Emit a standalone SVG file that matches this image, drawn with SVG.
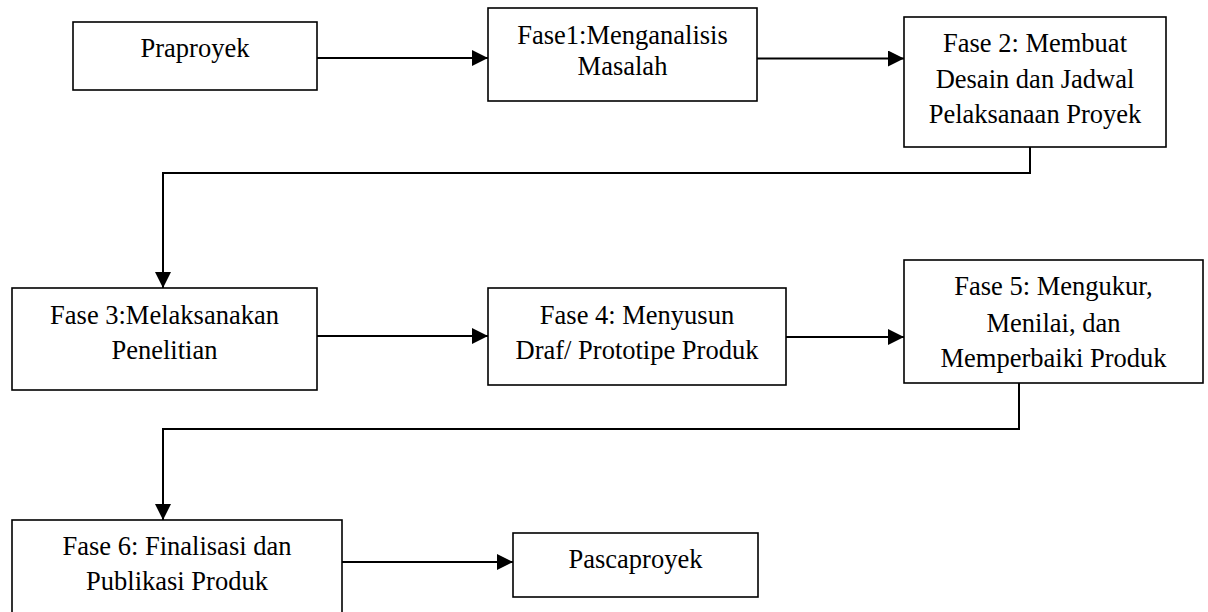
<svg xmlns="http://www.w3.org/2000/svg" width="1208" height="612" viewBox="0 0 1208 612">
<style>
.box{fill:#fff;stroke:#000;stroke-width:1.6}
.lbl{font-size:26.5px;fill:#000;text-anchor:middle}
.conn{fill:none;stroke:#000;stroke-width:2}
</style>
<defs>
<marker id="ah" markerUnits="userSpaceOnUse" markerWidth="16" markerHeight="16" viewBox="0 0 16 16" refX="16" refY="8" orient="auto">
<path d="M0,0 L16,8 L0,16 Z" fill="#000"/>
</marker>
</defs>
<rect width="1208" height="612" fill="#fff"/>
<g id="connectors">
<path class="conn" d="M317,58 H488" marker-end="url(#ah)"/>
<path class="conn" d="M757,58.5 H904" marker-end="url(#ah)"/>
<path class="conn" d="M1030,147 V173 H163 V288" marker-end="url(#ah)"/>
<path class="conn" d="M317,336 H488" marker-end="url(#ah)"/>
<path class="conn" d="M786,337 H904" marker-end="url(#ah)"/>
<path class="conn" d="M1019,383 V429 H163 V520" marker-end="url(#ah)"/>
<path class="conn" d="M342,562 H513" marker-end="url(#ah)"/>
</g>
<g font-family="'Liberation Serif', 'Times New Roman', serif">
<g id="praproyek">
<rect class="box" x="73" y="22" width="244" height="68"/>
<text class="lbl" x="195" y="57">Praproyek</text>
</g>
<g id="fase1">
<rect class="box" x="488" y="8" width="269" height="93"/>
<text class="lbl" x="622.5" y="44">Fase1:Menganalisis</text>
<text class="lbl" x="622.5" y="75">Masalah</text>
</g>
<g id="fase2">
<rect class="box" x="904" y="17" width="262" height="130"/>
<text class="lbl" x="1035" y="52">Fase 2: Membuat</text>
<text class="lbl" x="1035" y="88">Desain dan Jadwal</text>
<text class="lbl" x="1035" y="123">Pelaksanaan Proyek</text>
</g>
<g id="fase3">
<rect class="box" x="12" y="288" width="305" height="102"/>
<text class="lbl" x="164.5" y="324">Fase 3:Melaksanakan</text>
<text class="lbl" x="164.5" y="359">Penelitian</text>
</g>
<g id="fase4">
<rect class="box" x="488" y="288" width="298" height="97"/>
<text class="lbl" x="637" y="324">Fase 4: Menyusun</text>
<text class="lbl" x="637" y="359">Draf/ Prototipe Produk</text>
</g>
<g id="fase5">
<rect class="box" x="904" y="260" width="299" height="123"/>
<text class="lbl" x="1053.5" y="295">Fase 5: Mengukur,</text>
<text class="lbl" x="1053.5" y="332">Menilai, dan</text>
<text class="lbl" x="1053.5" y="367">Memperbaiki Produk</text>
</g>
<g id="fase6">
<rect class="box" x="12" y="520" width="330" height="100"/>
<text class="lbl" x="177" y="555">Fase 6: Finalisasi dan</text>
<text class="lbl" x="177" y="590">Publikasi Produk</text>
</g>
<g id="pascaproyek">
<rect class="box" x="513" y="533" width="245" height="64"/>
<text class="lbl" x="635.5" y="568">Pascaproyek</text>
</g>
</g>
</svg>
